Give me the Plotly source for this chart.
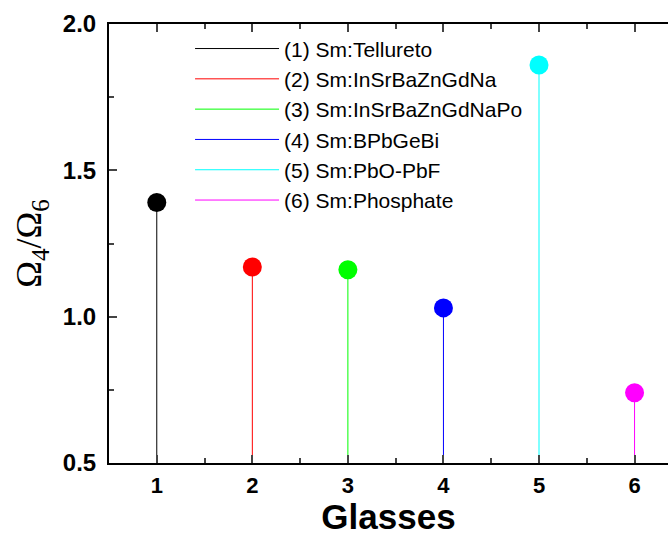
import plotly.graph_objects as go

glasses = [1, 2, 3, 4, 5, 6]
ratios = [1.39, 1.17, 1.16, 1.03, 1.86, 0.74]
names = ["(1) Sm:Tellureto", "(2) Sm:InSrBaZnGdNa", "(3) Sm:InSrBaZnGdNaPo",
         "(4) Sm:BPbGeBi", "(5) Sm:PbO-PbF", "(6) Sm:Phosphate"]
colors = ["#000000", "#ff0000", "#00ff00", "#0000ff", "#00ffff", "#ff00ff"]
base = 0.5

fig = go.Figure()
for g, r, n, c in zip(glasses, ratios, names, colors):
    fig.add_trace(go.Scatter(x=[g, g], y=[base, r], mode="lines", name=n,
                             line=dict(color=c, width=1), showlegend=True))
for g, r, n, c in zip(glasses, ratios, names, colors):
    fig.add_trace(go.Scatter(x=[g], y=[r], mode="markers", name=n,
                             marker=dict(color=c, size=19, line=dict(width=0)),
                             showlegend=False))

fig.update_layout(
    width=668, height=536,
    margin=dict(l=109, r=0, t=24, b=73),
    plot_bgcolor="white", paper_bgcolor="white",
    font=dict(family="Liberation Sans", color="black"),
    legend=dict(x=0.145, y=0.99, xanchor="left", yanchor="top",
                bgcolor="rgba(0,0,0,0)", font=dict(size=21, family="Liberation Sans"),
                itemwidth=84, tracegroupgap=0),
    xaxis=dict(range=[0.5, 6.35], tickvals=glasses, ticktext=[str(g) for g in glasses],
               ticks="inside", ticklen=8, tickwidth=2, showline=True, linewidth=2,
               linecolor="black", mirror="ticks", showgrid=False, zeroline=False,
               tickfont=dict(size=22, family="Liberation Sans", weight="bold"),
               ticklabelstandoff=2,
               minor=dict(ticks="inside", ticklen=5, tickwidth=2, dtick=0.5, tick0=0.5),
               title=dict(text="Glasses", font=dict(size=35, family="Liberation Sans", weight="bold"),
                          standoff=3)),
    yaxis=dict(range=[0.5, 2.0], tickvals=[0.5, 1.0, 1.5, 2.0],
               ticktext=["0.5", "1.0", "1.5", "2.0"],
               ticks="inside", ticklen=8, tickwidth=2, showline=True, linewidth=2,
               linecolor="black", mirror=False, showgrid=False, zeroline=False,
               tickfont=dict(size=24, family="Liberation Sans", weight="bold"),
               ticklabelstandoff=6,
               minor=dict(ticks="inside", ticklen=5, tickwidth=2, dtick=0.25, tick0=0.5),
               title=dict(text="Ω<sub>4</sub>/Ω<sub>6</sub>",
                          font=dict(size=36, family="Liberation Serif"), standoff=10)),
)
fig.write_html("out.html")
